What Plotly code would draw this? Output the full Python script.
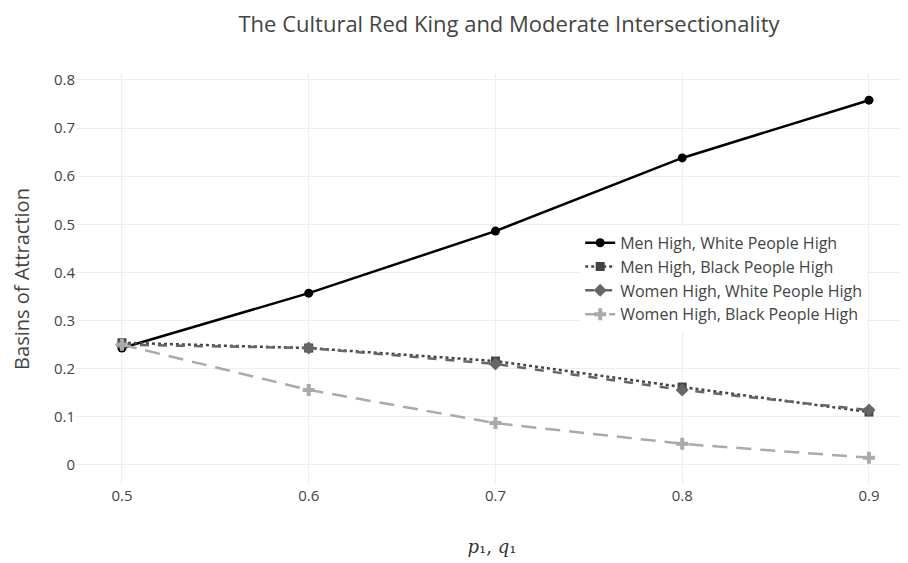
import plotly.graph_objects as go

x_vals = [0.5, 0.6, 0.7, 0.8, 0.9]
men_white = [0.243, 0.357, 0.486, 0.638, 0.758]
men_black = [0.254, 0.243, 0.216, 0.162, 0.110]
women_white = [0.250, 0.243, 0.210, 0.156, 0.114]
women_black = [0.250, 0.156, 0.087, 0.044, 0.015]
names = ["Men High, White People High", "Men High, Black People High",
         "Women High, White People High", "Women High, Black People High"]
x_ticks = ["0.5", "0.6", "0.7", "0.8", "0.9"]
y_tickvals = [0, 0.1, 0.2, 0.3, 0.4, 0.5, 0.6, 0.7, 0.8]
y_ticks = ["0", "0.1", "0.2", "0.3", "0.4", "0.5", "0.6", "0.7", "0.8"]

fig = go.Figure()
fig.add_trace(go.Scatter(x=x_vals, y=men_white, name=names[0], mode="lines+markers",
                         line=dict(color="#000000", width=2.5),
                         marker=dict(symbol="circle", size=9, color="#000000")))
fig.add_trace(go.Scatter(x=x_vals, y=men_black, name=names[1], mode="lines+markers",
                         line=dict(color="#444444", width=2.5, dash="dot"),
                         marker=dict(symbol="square", size=9, color="#444444")))
fig.add_trace(go.Scatter(x=x_vals, y=women_white, name=names[2], mode="lines+markers",
                         line=dict(color="#666666", width=2.5, dash="dash"),
                         marker=dict(symbol="diamond", size=10, color="#666666")))
fig.add_trace(go.Scatter(x=x_vals, y=women_black, name=names[3], mode="lines+markers",
                         line=dict(color="#aaaaaa", width=2.5, dash="15px,9px"),
                         marker=dict(symbol="cross", size=10, color="#aaaaaa")))

fig.update_layout(
    width=900, height=555,
    margin=dict(l=68, r=0, t=65, b=78),
    paper_bgcolor="white", plot_bgcolor="white",
    font=dict(family="Open Sans", size=16, color="#444444"),
    title=dict(text="The Cultural Red King and Moderate Intersectionality",
               x=(509 - 8) / 900, xanchor="center", y=1 - 16 / 555, yanchor="middle",
               font=dict(size=22, color="#444444")),
    xaxis=dict(range=[0.4754, 0.9209], tickvals=x_vals, ticktext=x_ticks,
               showgrid=True, gridcolor="#eeeeee", zeroline=False, showline=False,
               tickfont=dict(size=15),
               title=dict(text="<i>p</i>₁, <i>q</i>₁",
                          font=dict(family="DejaVu Serif", size=18, color="#333333"),
                          standoff=36)),
    yaxis=dict(range=[-0.0416, 0.8145], tickvals=y_tickvals, ticktext=y_ticks,
               showgrid=True, gridcolor="#eeeeee", zeroline=False, showline=False,
               tickfont=dict(size=15),
               title=dict(text="Basins of Attraction", font=dict(size=20, color="#444444"),
                          standoff=24)),
    legend=dict(x=0.606, y=0.629, xanchor="left", yanchor="top",
                bgcolor="white", font=dict(size=16, color="#444444"),
                tracegroupgap=0),
    showlegend=True,
)

fig.write_html("out.html")
